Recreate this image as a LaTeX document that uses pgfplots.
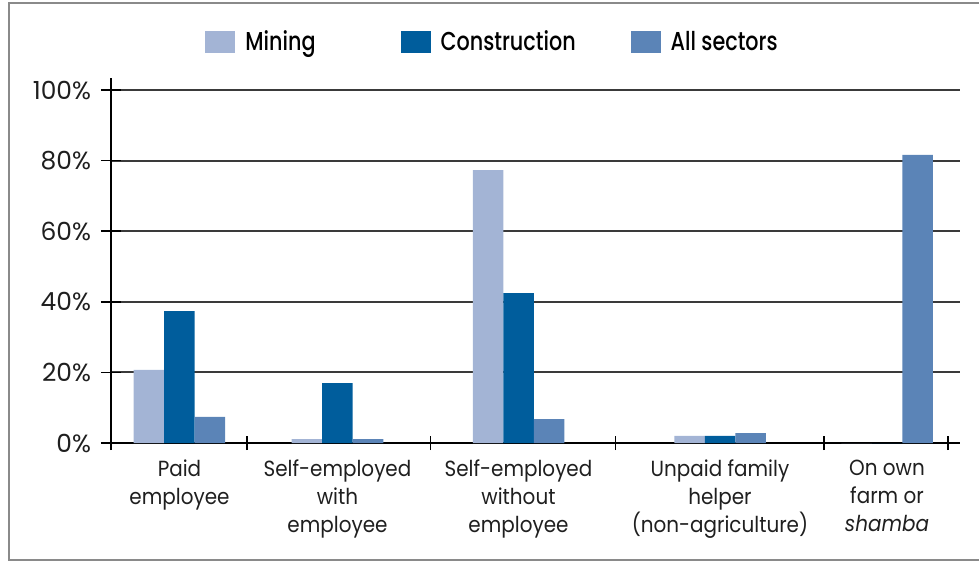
\documentclass[border=0pt]{standalone}
\usepackage{fontspec}
\setmainfont{Poppins}
\newfontfamily\legfont{Poppins Medium}[FakeStretch=0.8]
\newfontfamily\catfont{Poppins}[FakeStretch=0.91]
\usepackage{pgfplots}
\pgfplotsset{compat=1.18}
\definecolor{mining}{HTML}{A3B4D5}
\definecolor{constr}{HTML}{005D9C}
\definecolor{allsec}{HTML}{5B84B7}
\definecolor{gridc}{HTML}{3A3A3A}
\definecolor{framec}{HTML}{8A8A8A}
\begin{document}
\begin{tikzpicture}
% 1 px of the reference = 0.5bp; 1 % = 3.53 px
\begin{axis}[x=0.5bp,y=1.765bp,
  xmin=111,xmax=960,ymin=0,ymax=103.4,
  axis lines*=left,axis line style={black,line width=1bp},
  clip=false,
  ybar,bar width=30.5,
  ytick={0,20,40,60,80,100},
  yticklabels={0\%,20\%,40\%,60\%,80\%,100\%},
  ymajorgrids,grid style={gridc,line width=1bp},
  tick align=center,major tick length=10bp,minor tick length=7bp,
  tick style={black,line width=0.8bp},
  xtick={179.5,337.5,518.5,720,887},
  xticklabels={Paid\\employee,Self-employed\\with\\employee,Self-employed\\without\\employee,Unpaid family\\helper\\(non-agriculture),On own\\farm or\\\textit{shamba}},
  major x tick style={draw=none},
  minor xtick={111,247,430.5,615.5,824,948},
  xticklabel style={align=center,font=\catfont\fontsize{11}{14}\selectfont,text=black!88},
  yticklabel style={font=\fontsize{12.5}{14}\selectfont,text=black!88,xshift=-1.5bp},
  legend columns=3,
  legend style={draw=none,fill=none,inner sep=0pt,at={(axis cs:205,113.6)},anchor=west,
    font=\legfont\fontsize{13}{15}\selectfont,
    nodes={inner sep=0pt},
    /tikz/column 1/.style={column sep=5bp},
    /tikz/column 2/.style={column sep=42.5bp},
    /tikz/column 3/.style={column sep=5bp},
    /tikz/column 4/.style={column sep=27.5bp},
    /tikz/column 5/.style={column sep=5bp}},
  legend image code/.code={\fill[#1] (0bp,-5.5bp) rectangle (15bp,5.5bp);},
]
\addplot[fill=mining,draw=none,bar shift=-30.5] coordinates {(179.5,20.7) (337.5,1.1) (518.5,77.3) (720,2.0) (887,0)};
\addplot[fill=constr,draw=none,bar shift=0] coordinates {(179.5,37.4) (337.5,17.0) (518.5,42.5) (720,2.0) (887,0)};
\addplot[fill=allsec,draw=none,bar shift=30.5] coordinates {(179.5,7.4) (337.5,1.1) (518.5,6.8) (720,2.8) (887,81.6)};
\legend{Mining,Construction,All sectors}
\draw[framec,line width=1bp] (axis cs:979,124.65) -- (axis cs:9,124.65) -- (axis cs:9,-33.14) -- (axis cs:979,-33.14);
\coordinate (bl) at (axis cs:0,-34.0);
\coordinate (tr) at (axis cs:979,125.5);
\end{axis}
\pgfresetboundingbox
\path[use as bounding box] (bl) rectangle (tr);
\end{tikzpicture}
\end{document}
